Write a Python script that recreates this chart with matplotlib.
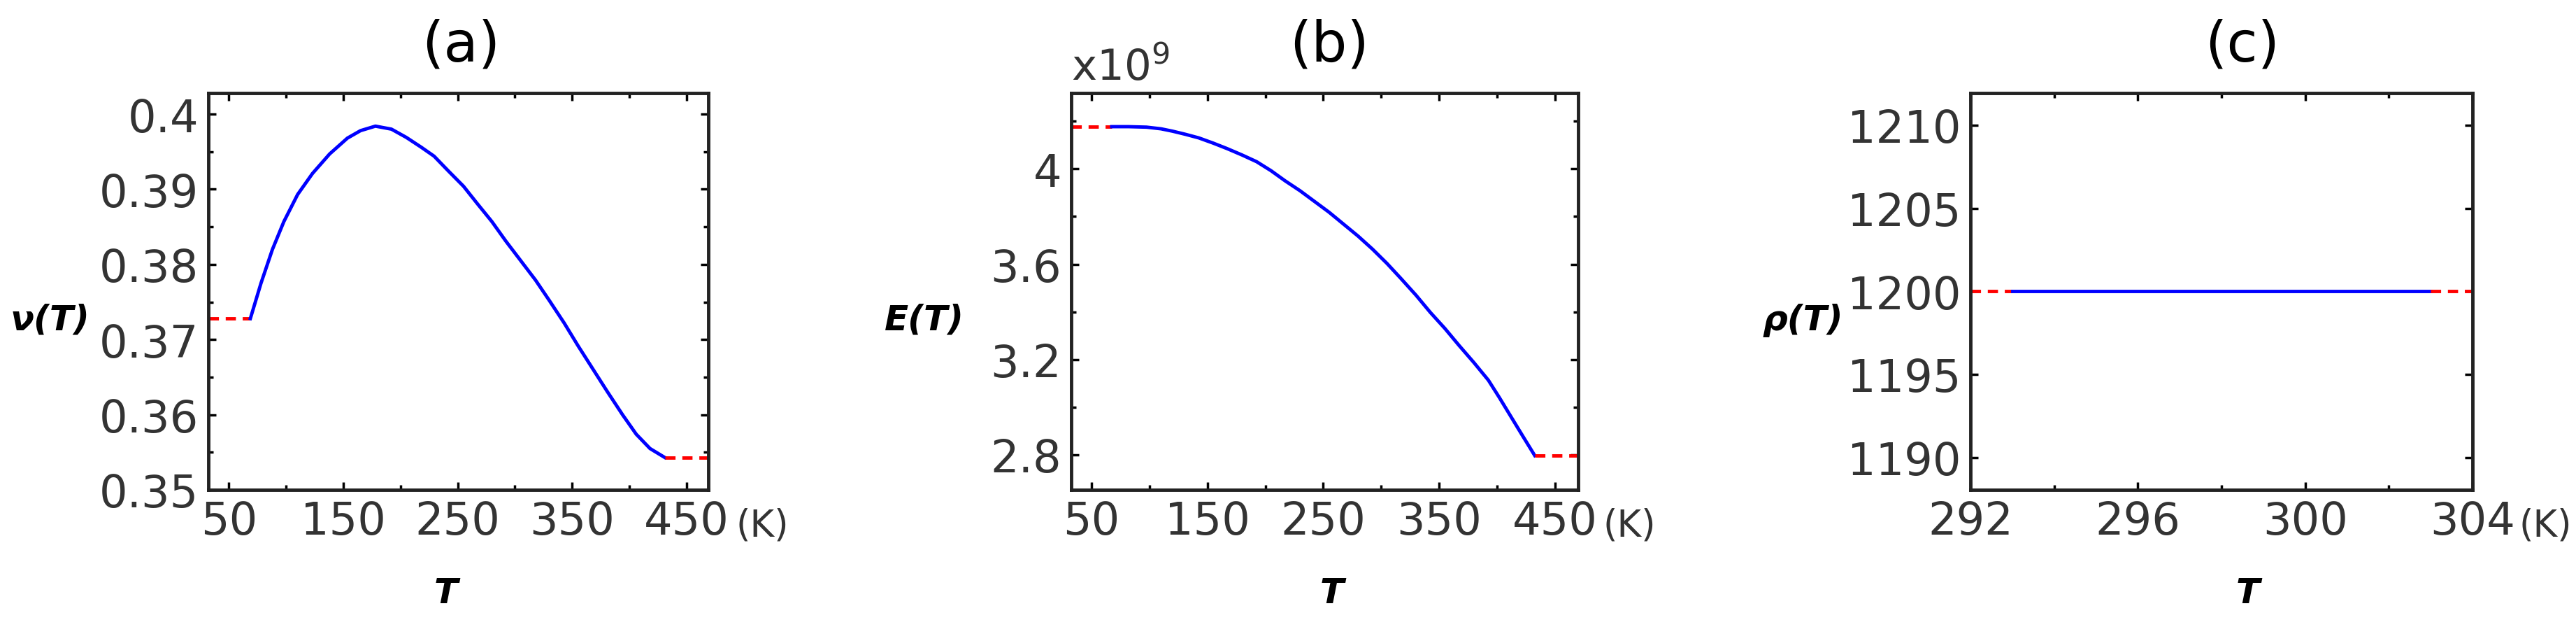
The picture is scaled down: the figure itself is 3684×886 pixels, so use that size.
import numpy as np
from matplotlib import pyplot as plt
from matplotlib.ticker import MultipleLocator

W, H = 3684, 887

# (a) Poisson ratio
nu_flat_lo_T = [32, 68.7]
nu_flat_lo = [0.3728, 0.3728]
nu_T = [68.7, 78, 88, 98, 110, 123, 138, 153.5, 165, 178, 192, 205, 218, 229.3, 242, 255, 267, 279.8, 292, 305, 318, 330, 343, 355, 368, 380.6, 394, 406, 418, 431]
nu = [0.3728, 0.3775, 0.3820, 0.3857, 0.3893, 0.3921, 0.3947, 0.3968, 0.3978, 0.3984, 0.3980, 0.3969, 0.3956, 0.3944, 0.3924, 0.3904, 0.3881, 0.3857, 0.3831, 0.3805, 0.3779, 0.3752, 0.3722, 0.3692, 0.3661, 0.3631, 0.3600, 0.3574, 0.3555, 0.3543]
nu_flat_hi_T = [431, 469]
nu_flat_hi = [0.3543, 0.3543]

# (b) Young's modulus (x1e9)
E_flat_lo_T = [32.5, 67.5]
E_flat_lo = [4.177, 4.177]
E_T = [67.5, 82, 97.5, 110, 120, 131, 142.5, 155, 167, 180, 192.5, 205, 217, 230, 242.5, 255, 267, 280, 292.5, 305, 317, 330, 342.5, 355, 367, 380, 392.5, 402, 412, 422, 432.5]
E = [4.177, 4.177, 4.175, 4.168, 4.158, 4.145, 4.130, 4.108, 4.085, 4.058, 4.030, 3.992, 3.950, 3.908, 3.863, 3.818, 3.770, 3.718, 3.663, 3.603, 3.540, 3.470, 3.397, 3.330, 3.260, 3.187, 3.113, 3.040, 2.960, 2.880, 2.797]
E_flat_hi_T = [432.5, 470]
E_flat_hi = [2.797, 2.797]

# (c) density
rho_flat_lo_T = [292, 293]
rho_T = [293, 303]
rho = [1200, 1200]
rho_flat_hi_T = [303, 304]

fig = plt.figure(figsize=(W / 100, H / 100), dpi=100)


def make_axes(left, width, xlim, ylim, xmaj, xmin, ymaj, ymin):
    ax = fig.add_axes([left / W, 1 - 701 / H, width / W, 567 / H])
    ax.set_xlim(*xlim)
    ax.set_ylim(*ylim)
    ax.xaxis.set_major_locator(MultipleLocator(xmaj))
    ax.xaxis.set_minor_locator(MultipleLocator(xmin))
    ax.yaxis.set_major_locator(MultipleLocator(ymaj))
    ax.yaxis.set_minor_locator(MultipleLocator(ymin))
    ax.tick_params(which="both", direction="in", top=True, right=True,
                   width=2.5, labelsize=46, labelcolor="#333333", pad=10)
    ax.tick_params(which="major", length=8)
    ax.tick_params(which="minor", length=5)
    for s in ax.spines.values():
        s.set_linewidth(3.5)
        s.set_color("#222222")
    return ax


def draw(ax, lo_T, lo_y, T, y, hi_T, hi_y):
    ax.plot(lo_T, lo_y, color="red", lw=3.5, ls=(0, (3, 2)))
    ax.plot(T, y, color="blue", lw=3.5)
    ax.plot(hi_T, hi_y, color="red", lw=3.5, ls=(0, (3, 2)))


ax1 = make_axes(298, 715, (32, 469), (0.35, 0.4028), 100, 50, 0.01, 0.005)
ax1.set_xticks([50, 150, 250, 350, 450])
ax1.set_xticks([100, 200, 300, 400], minor=True)
draw(ax1, nu_flat_lo_T, nu_flat_lo, nu_T, nu, nu_flat_hi_T, nu_flat_hi)
ax1.yaxis.set_major_formatter(lambda v, p: f"{v:.2f}".rstrip("0") if v > 0.395 else f"{v:.2f}")

ax2 = make_axes(1532, 725, (32.5, 470), (2.653, 4.318), 100, 50, 0.4, 0.2)
ax2.set_xticks([50, 150, 250, 350, 450])
ax2.set_xticks([100, 200, 300, 400], minor=True)
ax2.set_yticks([2.8, 3.2, 3.6, 4.0])
ax2.yaxis.set_major_formatter(lambda v, p: "4" if abs(v - 4) < 1e-6 else f"{v:.1f}")
draw(ax2, E_flat_lo_T, E_flat_lo, E_T, E, E_flat_hi_T, E_flat_hi)

ax3 = make_axes(2818, 718, (292, 304), (1188.05, 1211.93), 4, 2, 5, 5)
draw(ax3, rho_flat_lo_T, rho, rho_T, rho, rho_flat_hi_T, rho)


def ftext(x, y, s, **kw):
    fig.text(x / W, 1 - y / H, s, ha="center", va="center", **kw)


lab_kw = dict(fontsize=36, style="italic", fontweight="bold")
for x, s in [(659, "(a)"), (1901, "(b)"), (3207, "(c)")]:
    ftext(x, 66, s, fontsize=58)
for x, s in [(72, "ν(T)"), (1322, "E(T)"), (2578, "ρ(T)")]:
    ftext(x, 458, s, **lab_kw)
for x in [638, 1905, 3215]:
    ftext(x, 848, "T", **lab_kw)
for x in [1090, 2330, 3640]:
    ftext(x, 752, "(K)", fontsize=38, color="#333333")
fig.text(1532 / W, 1 - 98 / H, r"x10$^{9}$", fontsize=44, color="#333333", ha="left", va="center")

fig.savefig("out.png", dpi=100)
